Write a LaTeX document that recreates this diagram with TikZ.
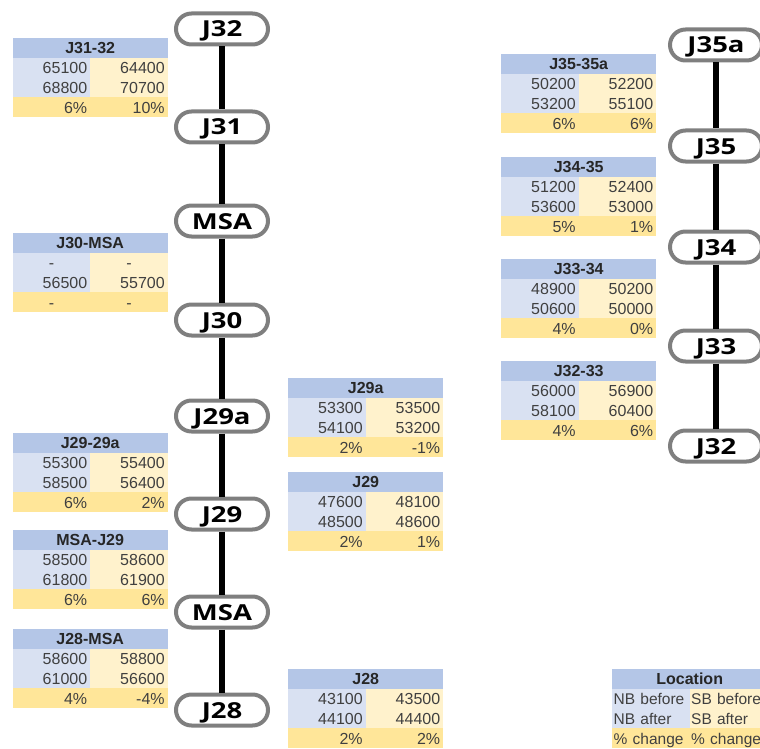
\documentclass[tikz,border=0pt]{standalone}
\usepackage{fontspec}
\usepackage{graphicx}
\setmainfont{Liberation Sans}
\newfontfamily\jfont{Open Sans}
\definecolor{hdr}{HTML}{B4C6E7}
\definecolor{cola}{HTML}{D9E1F2}
\definecolor{colb}{HTML}{FFF2CC}
\definecolor{pct}{HTML}{FFE699}
\definecolor{txt}{HTML}{404040}
\definecolor{ring}{HTML}{7F7F7F}
\newcommand\dashc{\makebox[71.5pt][c]{-}}
\tikzset{
 junction/.style={draw=ring, line width=4pt, fill=white, rounded corners=15.5pt,
   minimum width=92pt, minimum height=31pt, inner sep=0pt,
   font=\jfont\fontsize{22}{22}\selectfont\bfseries, text height=16pt, text depth=0pt},
 link/.style={line width=6pt, black},
 cellbase/.style={inner ysep=0pt, inner xsep=3pt, minimum height=19.75pt,
   text height=11.5pt, text depth=0pt, anchor=north west,
   font=\fontsize{16}{16}\selectfont, text=txt},
 hcell/.style={cellbase, fill=hdr, text width=149pt, align=center,
   font=\fontsize{16}{16}\selectfont\bfseries, text=black!85},
 acell/.style={cellbase, fill=cola, text width=71.5pt, align=right},
 bcell/.style={cellbase, fill=colb, text width=71.5pt, align=right},
 pcell/.style={cellbase, fill=pct, text width=71.5pt, align=right},
 legcell/.style={cellbase, inner xsep=1.5pt, text width=74.5pt, align=left,
   font=\fontsize{15.5}{15.5}\selectfont},
}
\begin{document}
\begin{tikzpicture}[x=1pt,y=-1pt]
\useasboundingbox (0,0) rectangle (760,749);

% tables
\foreach \tname/\tx/\ty/\ttitle/\va/\vb/\vc/\vd/\vp/\vq in {
  t3132/12.5/38/J31-32/65100/64400/68800/70700/6\%/10\%,
  t30msa/12.5/233/J30-MSA/\dashc/\dashc/56500/55700/\dashc/\dashc,
  t2929a/12.5/433/J29-29a/55300/55400/58500/56400/6\%/2\%,
  tmsa29/12.5/530/MSA-J29/58500/58600/61800/61900/6\%/6\%,
  t28msa/12.5/629/J28-MSA/58600/58800/61000/56600/4\%/-4\%,
  t29a/288/378/J29a/53300/53500/54100/53200/2\%/-1\%,
  t29/288/472/J29/47600/48100/48500/48600/2\%/1\%,
  t28/288/669/J28/43100/43500/44100/44400/2\%/2\%,
  t3535a/501/54/J35-35a/50200/52200/53200/55100/6\%/6\%,
  t3435/501/157/J34-35/51200/52400/53600/53000/5\%/1\%,
  t3334/501/259/J33-34/48900/50200/50600/50000/4\%/0\%,
  t3233/501/361/J32-33/56000/56900/58100/60400/4\%/6\%}
{
  \node[hcell] (\tname-h) at (\tx,\ty) {\ttitle};
  \node[acell] (\tname-a) at ({\tx},{\ty+19.75}) {\va};
  \node[bcell] (\tname-b) at ({\tx+77.5},{\ty+19.75}) {\vb};
  \node[acell] (\tname-c) at ({\tx},{\ty+39.5}) {\vc};
  \node[bcell] (\tname-d) at ({\tx+77.5},{\ty+39.5}) {\vd};
  \node[pcell] (\tname-p) at ({\tx},{\ty+59.25}) {\vp};
  \node[pcell] (\tname-q) at ({\tx+77.5},{\ty+59.25}) {\vq};
}

% legend
\node[hcell] (loc-h) at (612,669) {Location};
\node[legcell, fill=cola] (loc-a) at (612,688.75) {\mbox{NB before}};
\node[legcell, fill=colb] (loc-b) at (689.5,688.75) {\mbox{SB before}};
\node[legcell, fill=cola] (loc-c) at (612,708.5) {\mbox{NB after}};
\node[legcell, fill=colb] (loc-d) at (689.5,708.5) {\mbox{SB after}};
\node[legcell, fill=pct] (loc-p) at (612,728.25) {\mbox{\% change}};
\node[legcell, fill=pct] (loc-q) at (689.5,728.25) {\mbox{\% change}};

% left corridor
\node[junction] (L1) at (222,29) {\scalebox{1.25}[1]{J32}};
\node[junction] (L2) at (222,127) {\scalebox{1.25}[1]{J31}};
\node[junction] (L3) at (222,221) {\scalebox{1.25}[1]{MSA}};
\node[junction] (L4) at (222,320) {\scalebox{1.25}[1]{J30}};
\node[junction] (L5) at (222,416) {\scalebox{1.25}[1]{J29a}};
\node[junction] (L6) at (222,514) {\scalebox{1.25}[1]{J29}};
\node[junction] (L7) at (222,612) {\scalebox{1.25}[1]{MSA}};
\node[junction] (L8) at (222,710) {\scalebox{1.25}[1]{J28}};
\foreach \i/\j in {1/2,2/3,3/4,4/5,5/6,6/7,7/8}
  \draw[link] (L\i) -- (L\j);

% right corridor
\node[junction] (R1) at (716,45) {\scalebox{1.25}[1]{J35a}};
\node[junction] (R2) at (716,146) {\scalebox{1.25}[1]{J35}};
\node[junction] (R3) at (716,247) {\scalebox{1.25}[1]{J34}};
\node[junction] (R4) at (716,346) {\scalebox{1.25}[1]{J33}};
\node[junction] (R5) at (716,446) {\scalebox{1.25}[1]{J32}};
\foreach \i/\j in {1/2,2/3,3/4,4/5}
  \draw[link] (R\i) -- (R\j);
\end{tikzpicture}
\end{document}
